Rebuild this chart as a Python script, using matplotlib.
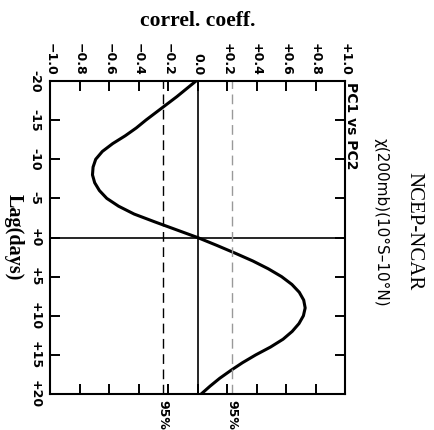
import matplotlib
matplotlib.use("Agg")
import matplotlib.pyplot as plt

# lag (days) and cross-correlation PC1 vs PC2
lags = list(range(-20, 21))
corr = [-0.01, -0.075, -0.14, -0.21, -0.28, -0.35, -0.415, -0.49, -0.575, -0.645,
        -0.69, -0.708, -0.712, -0.697, -0.665, -0.615, -0.535, -0.43, -0.29, -0.145,
        0.0,
        0.13, 0.255, 0.375, 0.48, 0.57, 0.64, 0.69, 0.72, 0.73, 0.718,
        0.688, 0.642, 0.58, 0.495, 0.395, 0.305, 0.225, 0.15, 0.085, 0.025]
sig95 = 0.235

corr_ticks = [-1.0, -0.8, -0.6, -0.4, -0.2, 0.0, 0.2, 0.4, 0.6, 0.8, 1.0]
corr_labels = ["\u22121.0", "\u22120.8", "\u22120.6", "\u22120.4", "\u22120.2", "0.0",
               "+0.2", "+0.4", "+0.6", "+0.8", "+1.0"]
lag_ticks = [-20, -15, -10, -5, 0, 5, 10, 15, 20]
lag_labels = ["-20", "-15", "-10", "-5", "+0", "+5", "+10", "+15", "+20"]

W, H = 434, 430
fig = plt.figure(figsize=(W / 100, H / 100), dpi=100)
ax = fig.add_axes([50 / W, 1 - 394 / H, 295 / W, 313 / H])

# chart is drawn turned a quarter clockwise: correlation across, lag downward
ax.plot(corr, lags, color="black", lw=2.2, solid_joinstyle="round")
ax.axvline(0, color="black", lw=1.2)
ax.axhline(0, color="black", lw=1.2)
ax.axvline(-sig95, color="black", lw=1.0, dashes=(7, 4))
ax.axvline(sig95, color="#999999", lw=1.0, dashes=(7, 4))

ax.set_xlim(-1, 1)
ax.set_ylim(20, -20)
ax.set_xticks(corr_ticks)
ax.set_xticklabels(corr_labels)
ax.set_yticks(lag_ticks)
ax.set_yticklabels(lag_labels)
ax.xaxis.tick_top()
ax.tick_params(axis="x", top=True, bottom=True, labeltop=True, labelbottom=False,
               direction="in", length=7, width=1.4, pad=4, labelrotation=-90)
ax.tick_params(axis="y", left=True, right=True, direction="in", length=7,
               width=1.4, pad=6, labelrotation=-90)
for lab in ax.get_xticklabels() + ax.get_yticklabels():
    lab.set_fontweight("bold")
    lab.set_fontsize(9)
for lab in ax.get_yticklabels():
    lab.set_verticalalignment("center")
for sp in ax.spines.values():
    sp.set_linewidth(1.5)

fig.text(197.5 / W, 1 - 21 / H, "correl. coeff.", ha="center", va="center",
         family="Liberation Serif", fontweight="bold", fontsize=15.5)
fig.text(14 / W, 1 - 237 / H, "Lag(days)", ha="center", va="center", rotation=-90,
         family="Liberation Serif", fontweight="bold", fontsize=14.5)
fig.text(351 / W, 1 - 82 / H, "PC1 vs PC2", ha="center", va="top", rotation=-90,
         fontweight="bold", fontsize=10)
fig.text(381 / W, 1 - 222 / H, "\u03c7(200mb)(10\u00b0S\u201310\u00b0N)", ha="center",
         va="center", rotation=-90, fontsize=11)
fig.text(414 / W, 1 - 231 / H, "NCEP-NCAR", ha="center", va="center", rotation=-90,
         family="Liberation Serif", fontsize=15)
for x in (-sig95, sig95):
    ax.text(x, -0.02, "95%", transform=ax.get_xaxis_transform(), rotation=-90,
            ha="center", va="top", fontsize=9, fontweight="bold")

fig.savefig("out.png", dpi=100)
